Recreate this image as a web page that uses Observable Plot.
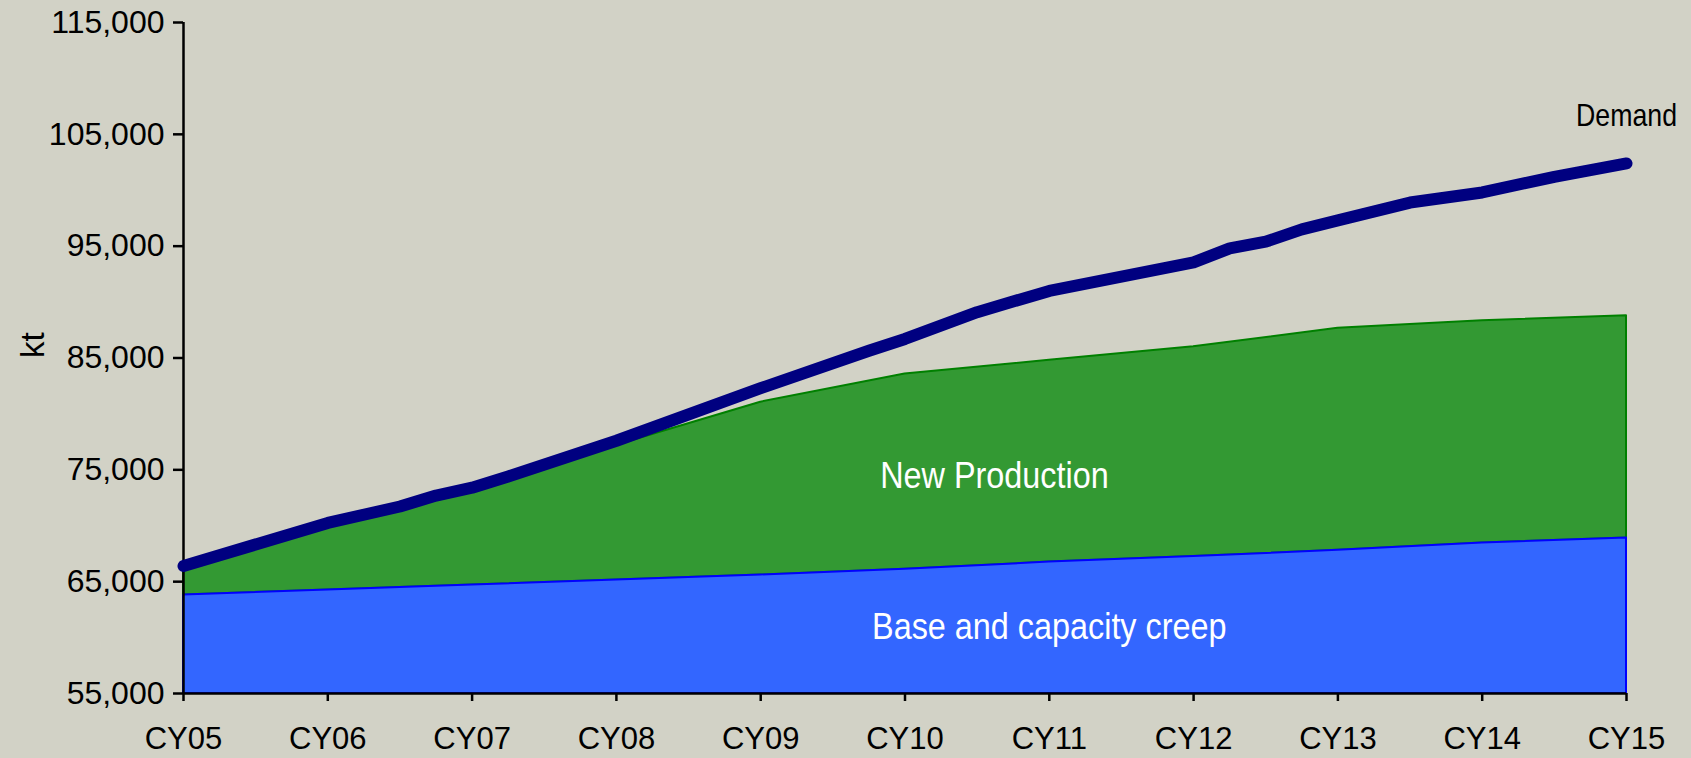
<!DOCTYPE html>
<html><head><meta charset="utf-8">
<script src="https://cdn.jsdelivr.net/npm/d3@7"></script>
<script src="https://cdn.jsdelivr.net/npm/@observablehq/plot@0.6"></script>
<style>
html,body{margin:0;padding:0;background:#D2D2C6;}
#chart{width:1691px;height:758px;}
</style></head><body><div id="chart"></div>
<script>
// Calendar years (x values) and their tick labels
const years = [2005, 2006, 2007, 2008, 2009, 2010, 2011, 2012, 2013, 2014, 2015];
const yearLabels = ["CY05", "CY06", "CY07", "CY08", "CY09", "CY10", "CY11", "CY12", "CY13", "CY14", "CY15"];
// Supply series (kt)
const baseCapacity = [63800, 64250, 64700, 65150, 65600, 66100, 66750, 67250, 67800, 68450, 68900];
const newProduction = [2200, 5650, 8300, 12050, 15450, 17460, 18050, 18750, 19850, 19880, 19880];
// Demand (kt), read at the quarters where the line bends
const demandYears = [2005, 2006, 2006.5, 2006.75, 2007, 2007.25, 2008, 2009, 2009.75, 2010, 2010.5, 2011, 2012, 2012.25, 2012.5, 2012.75, 2013, 2013.5, 2014, 2014.5, 2015];
const demandValues = [66400, 70250, 71720, 72700, 73400, 74400, 77600, 82300, 85650, 86700, 89100, 91000, 93550, 94800, 95400, 96500, 97300, 98900, 99800, 101200, 102400];
// Y axis ticks
const yTicks = [55000, 65000, 75000, 85000, 95000, 105000, 115000];
// Annotations
const labelTexts = ["Demand", "New Production", "Base and capacity creep"];
const labelYears = [2015, 2010.62, 2011.0];
const labelValues = [106700, 74450, 60950];

const areaRows = years.map((yr, i) => ({year: yr, base: baseCapacity[i], top: baseCapacity[i] + newProduction[i]}));
const demandRows = demandYears.map((yr, i) => ({year: yr, value: demandValues[i]}));
const labelRows = labelTexts.map((t, i) => ({text: t, year: labelYears[i], value: labelValues[i]}));

const chart = Plot.plot({
  width: 1691, height: 758,
  marginLeft: 183, marginRight: 65, marginTop: 22, marginBottom: 65,
  style: {background: "#D2D2C6", fontFamily: "'Liberation Sans', Arial, sans-serif", fontSize: "31px", color: "#000", overflow: "visible"},
  x: {domain: [2005, 2015]},
  y: {domain: [55000, 115000]},
  marks: [
    Plot.areaY(areaRows, {x: "year", y1: "base", y2: "top", fill: "#339933", stroke: "#008000", strokeWidth: 2}),
    Plot.areaY(areaRows, {x: "year", y1: 55000, y2: "base", fill: "#3366FF", stroke: "#0000FF", strokeWidth: 2}),
    Plot.axisY({ticks: yTicks, tickSize: 10, tickPadding: 9, label: null, strokeWidth: 2.5, fontSize: 32, tickFormat: d3.format(",")}),
    Plot.axisX({ticks: years, tickSize: 8, tickPadding: 25, label: null, strokeWidth: 2.5, fontSize: 31, tickFormat: d => yearLabels[years.indexOf(d)]}),
    Plot.ruleY([55000], {stroke: "#000", strokeWidth: 2.5}),
    Plot.ruleX([2005], {stroke: "#000", strokeWidth: 2.5}),
    Plot.line(demandRows, {x: "year", y: "value", stroke: "#000080", strokeWidth: 12, strokeLinecap: "round", strokeLinejoin: "round"}),
    Plot.text([labelRows[0]], {x: "year", y: "value", text: "text", fill: "#000", fontSize: 32}),
    Plot.text(labelRows.slice(1), {x: "year", y: "value", text: "text", fill: "#fff", fontSize: 37}),
    Plot.text(["kt"], {frameAnchor: "left", dx: -150, rotate: -90, text: d => d, fontSize: 33, fill: "#000"})
  ]
});
// condense annotation lettering horizontally, like the narrow face of the original
const squeeze = [0.835, 0.875, 0.875];
d3.select(chart).selectAll("text").each(function () {
  const i = labelTexts.indexOf(this.textContent);
  if (i >= 0) {
    const t = this.getAttribute("transform") || "";
    this.setAttribute("transform", t + ` scale(${squeeze[i]},1)`);
  }
});
document.getElementById("chart").append(chart);
</script>
</body></html>
